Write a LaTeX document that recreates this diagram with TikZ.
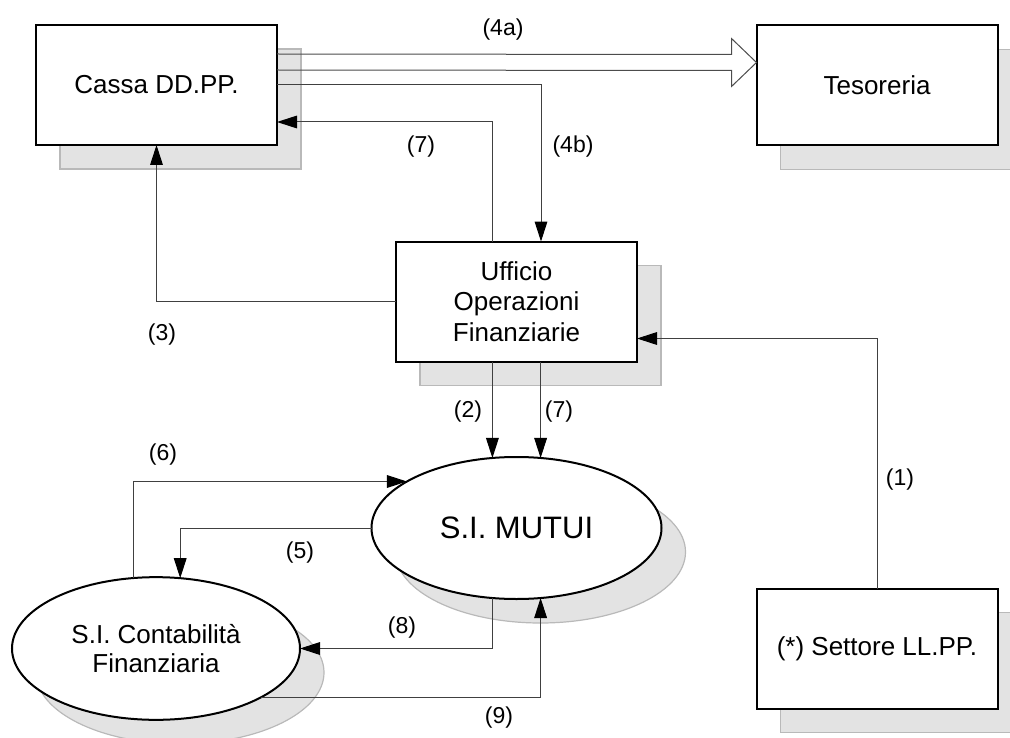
\documentclass[tikz,border=0pt]{standalone}
\usepackage{fontspec}
\setmainfont{Liberation Sans}
\usetikzlibrary{arrows.meta}
\usetikzlibrary{shapes.geometric}
\usetikzlibrary{shadows}
\usetikzlibrary{calc}

\tikzset{
  shadebox/.style={general shadow={shadow xshift=18pt, shadow yshift=-18pt,
      fill=gray!22, draw=gray!55, line width=0.9pt}},
  box/.style={draw, line width=1.5pt, fill=white, shadebox,
      minimum width=180.75pt, minimum height=90pt, inner sep=0pt, outer sep=0pt,
      align=center, font=\fontsize{19.5}{23}\selectfont},
  ell/.style={ellipse, draw, line width=1.5pt, fill=white, shadebox,
      inner sep=0pt, outer sep=0pt, align=center},
  conn/.style={draw=black!75, line width=0.75pt},
  arr/.style={conn, -{Triangle[length=15pt, width=9.5pt, color=black]}},
  hollow/.style={draw=black!70, line width=0.75pt},
  lbl/.style={inner sep=0pt, font=\fontsize{17.25}{20}\selectfont}
}

\begin{document}
\begin{tikzpicture}[x=0.75pt, y=-0.75pt]
  \useasboundingbox (0,0) rectangle (1010,738);

  % blocchi
  \node[box] (cassa) at (156.5,85) {Cassa DD.PP.};
  \node[box] (tes) at (877,85.5) {Tesoreria};
  \node[box] (uff) at (516.5,301.5) {Ufficio\\Operazioni\\Finanziarie};
  \node[box] (sett) at (877,648.5) {(*) Settore LL.PP.};

  \node[ell, minimum width=217.5pt, minimum height=106.5pt,
        font=\fontsize{23.25}{27}\selectfont] (mutui) at (516.5,528) {S.I. MUTUI};
  \node[ell, minimum width=216pt, minimum height=107pt,
        font=\fontsize{19.5}{22}\selectfont] (conta) at (156,648.5) {S.I. Contabilità\\Finanziaria};

  % freccia vuota (4a)
  \draw[hollow] ($(cassa.east)+(0,-31)$) -- ($(tes.west)+(-25,-31)$)
    -- ($(tes.west)+(-25,-47)$) -- ($(tes.west)+(0,-23)$)
    -- ($(tes.west)+(-25,1)$) -- ($(tes.west)+(-25,-15)$)
    -- ($(cassa.east)+(0,-15)$);

  % flussi
  \draw[arr] (cassa.east) -| ($(uff.north)+(24.5,0)$);
  \draw[arr] ($(uff.north)+(-24.5,0)$) |- ($(cassa.east)+(0,37)$);
  \draw[arr] (uff.west) -| (cassa.south);
  \draw[arr] (sett.north) |- ($(uff.east)+(0,37)$);
  \draw[arr] (mutui.109 |- uff.south) -- (mutui.109);
  \draw[arr] (mutui.71 |- uff.south) -- (mutui.71);
  \draw[arr] (conta.108) |- (mutui.157);
  \draw[arr] (mutui.180) -| (conta.71);
  \draw[arr] (mutui.251) |- (conta.east);
  \draw[arr] (conta.335) -| (mutui.289);

  % etichette
  \node[lbl] (l4a) at (503,30) {(4a)};
  \node[lbl] (l7a) at (421,147) {(7)};
  \node[lbl] (l4b) at (573,147) {(4b)};
  \node[lbl] (l3) at (162,335) {(3)};
  \node[lbl] (l1) at (900,480) {(1)};
  \node[lbl] (l2) at (468,412) {(2)};
  \node[lbl] (l7b) at (559,412) {(7)};
  \node[lbl] (l6) at (163,455) {(6)};
  \node[lbl] (l5) at (300,553) {(5)};
  \node[lbl] (l8) at (402,628) {(8)};
  \node[lbl] (l9) at (499,718) {(9)};
\end{tikzpicture}
\end{document}
